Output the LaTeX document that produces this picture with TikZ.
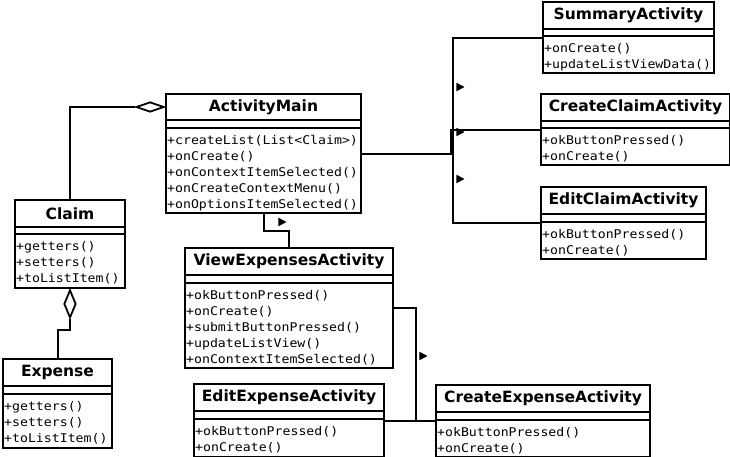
\documentclass[tikz,border=0pt]{standalone}
\usepackage{fontspec}
\setmainfont{DejaVu Sans}
\newfontfamily\titlefont{DejaVu Sans}
\newfontfamily\methfont[FakeStretch=1.1]{DejaVu Sans Mono}
\usetikzlibrary{calc,shapes.geometric}
\tikzset{
  ln/.style={line width=2pt},
  cls/.style={draw, line width=2pt, inner sep=0pt, fill=white},
  ttl/.style={font=\titlefont\bfseries\fontsize{15.5}{16}\selectfont, inner sep=0pt},
  meth/.style={font=\methfont\fontsize{12}{16}\selectfont, align=left, inner sep=0pt, anchor=north west},
  agg/.style={draw, diamond, line width=1.8pt, fill=white, inner sep=0pt},
  tri/.style={isosceles triangle, isosceles triangle stretches, fill=black, inner sep=0pt, minimum width=8.5pt, minimum height=8pt}
}
% name, x, y, w, h, sep1, sep2, title, methods
\newcommand\umlclassbox[9]{%
  \node[cls, minimum width=#4pt, minimum height=#5pt, anchor=north west] (#1) at (#2,#3) {};
  \draw[ln] ($(#1.north west)+(0,#6)$) -- ($(#1.north east)+(0,#6)$);
  \draw[ln] ($(#1.north west)+(0,#7)$) -- ($(#1.north east)+(0,#7)$);
  \node[ttl] (#1-t) at ($(#1.north)+(0,#6/2+0.5)$) {#8};
  \node[meth] (#1-m) at ($(#1.north west)+(2,#7+7)$) {#9};
}
\begin{document}
\begin{tikzpicture}[x=1pt,y=-1pt]
\useasboundingbox (0,0) rectangle (730,456);
\fill[white] (0,0) rectangle (730,456);

\umlclassbox{am}{165}{93}{195}{119}{27}{35}{ActivityMain}{+createList(List<Claim>)\\+onCreate()\\+onContextItemSelected()\\+onCreateContextMenu()\\+onOptionsItemSelected()}
\umlclassbox{claim}{14}{199}{110}{88}{28}{35}{Claim}{+getters()\\+setters()\\+toListItem()}
\umlclassbox{exp}{2}{358}{109}{89}{28}{36}{Expense}{+getters()\\+setters()\\+toListItem()}
\umlclassbox{vea}{184}{247}{208}{120}{28}{36}{ViewExpensesActivity}{+okButtonPressed()\\+onCreate()\\+submitButtonPressed()\\+updateListView()\\+onContextItemSelected()}
\umlclassbox{ee}{193}{383}{190}{73}{28}{36}{EditExpenseActivity}{+okButtonPressed()\\+onCreate()}
\umlclassbox{ce}{435}{384}{214}{72}{28}{36}{CreateExpenseActivity}{+okButtonPressed()\\+onCreate()}
\umlclassbox{sum}{542}{1}{171}{71}{28}{35}{SummaryActivity}{+onCreate()\\+updateListViewData()}
\umlclassbox{cc}{540}{93}{189}{71}{28}{35}{CreateClaimActivity}{+okButtonPressed()\\+onCreate()}
\umlclassbox{ec}{540}{186}{165}{72}{28}{36}{EditClaimActivity}{+okButtonPressed()\\+onCreate()}

% aggregation diamonds
\node[agg, minimum width=28pt, minimum height=10pt, anchor=east] (d1) at ($(am.north west)+(0,14)$) {};
\node[agg, minimum width=12pt, minimum height=28pt, anchor=north] (d2) at (claim.south) {};

\draw[ln] (claim.north) |- (d1.west);
\draw[ln] (d2.south) |- ($(exp.north)+(0,-28)$) -- (exp.north);

% ActivityMain to right-hand activities
\draw[ln] (am.east) -- ++(91,0) |- (sum.west);
\draw[ln] (am.east) -- ++(89,0) |- (cc.west);
\draw[ln] (am.east) -- ++(91,0) |- (ec.west);

% ActivityMain to ViewExpensesActivity
\draw[ln] (am.south) -- ++(0,17) -| (vea.north);

% ViewExpensesActivity to expense activities
\draw[ln] (vea.east) -- ++(22,0) |- (ce.west);
\draw[ln] (vea.east) -- ++(22,0) |- (ee.east);

% direction markers
\node[tri] (m1) at (459,87) {};
\node[tri] (m2) at (459,132) {};
\node[tri] (m3) at (459,179) {};
\node[tri] (m4) at (281,222) {};
\node[tri] (m5) at (422,356) {};
\end{tikzpicture}
\end{document}
